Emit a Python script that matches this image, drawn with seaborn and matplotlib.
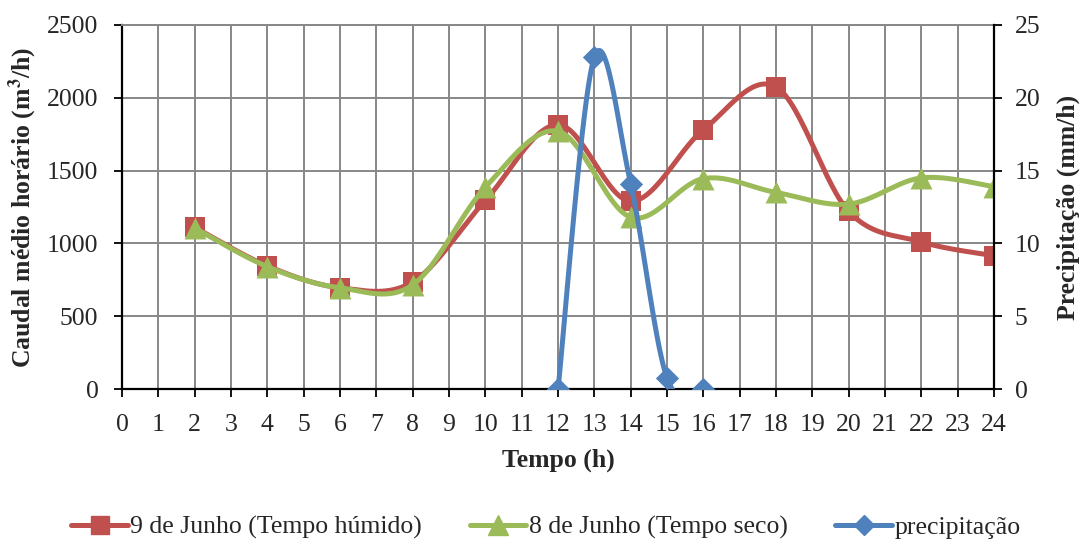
import numpy as np
import pandas as pd
import matplotlib
matplotlib.use("Agg")
import matplotlib.pyplot as plt
import seaborn as sns
from matplotlib.lines import Line2D

# Hourly mean flow (m3/h) for the two days and rainfall intensity (mm/h)
hours_flow = [2, 4, 6, 8, 10, 12, 14, 16, 18, 20, 22, 24]
flow_wet = [1110, 845, 695, 735, 1295, 1815, 1290, 1780, 2075, 1220, 1010, 915]
flow_dry = [1105, 840, 695, 715, 1385, 1770, 1180, 1445, 1350, 1270, 1450, 1390]
hours_rain = [12, 13, 14, 15, 16]
rain = [0.0, 22.8, 14.1, 0.75, 0.0]

label_wet = "9 de Junho (Tempo húmido)"
label_dry = "8 de Junho (Tempo seco)"
label_rain = "precipitação"

RED = "#C0504D"
GREEN = "#9BBB59"
BLUE = "#4F81BD"
GRID = "#878787"


def smooth(x, y, n=30):
    """Catmull-Rom style cubic Bezier through the points (spreadsheet 'smoothed line')."""
    x = np.asarray(x, float)
    y = np.asarray(y, float)
    P = np.column_stack([x, y])
    out = []
    for i in range(len(P) - 1):
        p0 = P[i - 1] if i > 0 else P[i]
        p1, p2 = P[i], P[i + 1]
        p3 = P[i + 2] if i + 2 < len(P) else P[i + 1]
        c1 = p1 + (p2 - p0) / 6.0
        c2 = p2 - (p3 - p1) / 6.0
        t = np.linspace(0, 1, n, endpoint=(i == len(P) - 2))[:, None]
        seg = ((1 - t) ** 3) * p1 + 3 * ((1 - t) ** 2) * t * c1 + 3 * (1 - t) * t ** 2 * c2 + t ** 3 * p2
        out.append(seg)
    s = np.vstack(out)
    return pd.DataFrame({"x": s[:, 0], "y": s[:, 1]})


sns.set_theme(style="white")
plt.rcParams["font.family"] = ["Liberation Serif", "DejaVu Serif"]
plt.rcParams["mathtext.fontset"] = "stix"

fig = plt.figure(figsize=(10.81, 5.43), dpi=100)
ax = fig.add_axes([0.1129, 0.2836, 0.8066, 0.6704])
ax2 = ax.twinx()

LW = 3.6
# flow curves on the left axis
sns.lineplot(data=smooth(hours_flow, flow_wet), x="x", y="y", ax=ax, color=RED,
             lw=LW, sort=False, estimator=None, zorder=3)
sns.scatterplot(x=hours_flow, y=flow_wet, ax=ax, color=RED, marker="s", s=210,
                edgecolor=RED, linewidth=0, zorder=4)
sns.lineplot(data=smooth(hours_flow, flow_dry), x="x", y="y", ax=ax, color=GREEN,
             lw=LW, sort=False, estimator=None, zorder=5)
sns.scatterplot(x=hours_flow, y=flow_dry, ax=ax, color=GREEN, marker="^", s=250,
                edgecolor=GREEN, linewidth=0, zorder=6)

# rainfall on the right axis
sns.lineplot(data=smooth(hours_rain, rain), x="x", y="y", ax=ax2, color=BLUE,
             lw=LW, sort=False, estimator=None, zorder=3)
sns.scatterplot(x=hours_rain, y=rain, ax=ax2, color=BLUE, marker="D", s=140,
                edgecolor=BLUE, linewidth=0, zorder=4)

ax.set_xlim(0, 24)
ax.set_ylim(0, 2500)
ax2.set_ylim(0, 25)
ax.set_xticks(range(0, 25))
ax.set_yticks(range(0, 2501, 500))
ax2.set_yticks(range(0, 26, 5))

ax.grid(True, color=GRID, lw=1.4)
ax.set_axisbelow(True)
ax2.grid(False)

FS = 18.5
ax.tick_params(axis="x", labelsize=FS, length=6, width=1.3, color="black",
               direction="out", pad=12, bottom=True)
ax.tick_params(axis="y", labelsize=FS, length=6, width=1.3, color="black",
               direction="out", pad=11, left=True)
ax2.tick_params(axis="y", labelsize=FS, length=6, width=1.3, color="black",
                direction="out", pad=9, right=True)

for sp in ("left", "bottom"):
    ax.spines[sp].set_color("black")
    ax.spines[sp].set_linewidth(1.6)
ax.spines["top"].set_color(GRID)
ax.spines["top"].set_linewidth(1.4)
ax.spines["right"].set_visible(False)
ax2.spines["right"].set_color("black")
ax2.spines["right"].set_linewidth(1.6)
for sp in ("left", "bottom", "top"):
    ax2.spines[sp].set_visible(False)

ax.set_xlabel("Tempo (h)", fontsize=FS, fontweight="bold")
ax.set_ylabel("Caudal médio horário (m$^{\\mathbf{3}}$/h)", fontsize=FS, fontweight="bold")
ax2.set_ylabel("Precipitação (mm/h)", fontsize=FS, fontweight="bold")
ax.xaxis.set_label_coords(0.5, -0.163)
ax.yaxis.set_label_coords(-0.095, 0.5)
ax2.yaxis.set_label_coords(1.072, 0.5)

handles = [
    Line2D([], [], color=RED, lw=LW, marker="s", markersize=13),
    Line2D([], [], color=GREEN, lw=LW, marker="^", markersize=14),
    Line2D([], [], color=BLUE, lw=LW, marker="D", markersize=10),
]
fig.legend(handles, [label_wet, label_dry, label_rain], loc="center",
           bbox_to_anchor=(0.505, 0.028), ncol=3, frameon=False, fontsize=FS,
           handlelength=2.2, handletextpad=0.1, columnspacing=1.85)

fig.savefig("out.png", dpi=100)
